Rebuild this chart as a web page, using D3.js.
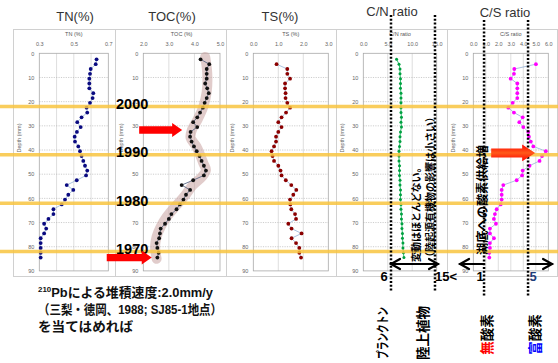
<!DOCTYPE html>
<html><head><meta charset="utf-8">
<script src="https://cdn.jsdelivr.net/npm/d3@7/dist/d3.min.js"></script>
<style>
body{margin:0;background:#fff;}
svg{display:block;}
</style></head><body>
<svg id="c" width="558" height="363"></svg>
<script>
// ---------------- DATA ----------------
const depthA = [2.5,4.5,6.5,8.5,10.5,12.5,14.5,16.5,18.5,20.5,22.5,24.5,26.5,28.5,30.5,32.5,34.5,36.5,38.5,40.5,42.5,44.5,46.5,48.5,50.5,52.5,54.5,56.5,58.5,60.5,62.5,64.5,66.5,68.5,70.5,72.5,74.5,76.5,78.5,80.5,82.5,84.5];
const depthB = [4.5,6.5,8.5,10.5,12.5,14.5,16.5,18.5,20.5,22.5,24.5,26.5,28.5,30.5,32.5,34.5,36.5,38.5,40.5,42.5,44.5,46.5,48.5,50.5,52.5,54.5,56.5,58.5,60.5,62.5,64.5,66.5,68.5,70.5,72.5,74.5,76.5,78.5,80.5,82.5,84.5];
const tnValues = [0.632,0.627,0.598,0.594,0.590,0.590,0.590,0.613,0.609,0.594,0.574,0.578,0.545,0.520,0.540,0.518,0.505,0.507,0.526,0.536,0.545,0.555,0.565,0.578,0.571,0.517,0.459,0.497,0.468,0.449,0.430,0.382,0.382,0.353,0.328,0.340,0.328,0.308,0.308,0.308,0.308,0.308];
const tocValues = [4.24,4.58,4.48,4.48,4.48,4.42,4.50,4.56,4.48,4.40,4.33,4.22,4.11,3.95,4.11,3.85,3.83,3.89,3.98,4.09,4.20,4.28,4.37,4.45,4.37,3.95,3.50,3.83,3.67,3.57,3.43,3.30,3.10,3.00,2.85,2.68,2.65,2.62,2.52,2.55,2.60,2.55];
const tocTrendDepth = [1.5,8,16,22,27.5,31.7,35,38.6,45.5,48.3,51,55,59,63.4,67.6,71.7,75.9,80,85];
const tocTrendValue = [4.42,4.50,4.48,4.35,4.12,3.90,3.85,4.08,4.35,4.45,4.30,3.90,3.62,3.25,2.92,2.68,2.52,2.46,2.52];
const tsValues = [0.93,1.36,1.36,1.47,1.27,1.27,1.29,1.29,1.36,1.47,1.31,1.13,1.00,1.13,1.00,0.91,0.91,0.83,0.73,0.77,0.83,1.00,1.09,1.13,1.30,1.52,1.72,1.60,1.47,1.48,1.52,1.67,1.71,1.40,1.53,1.93,1.53,1.71,1.84,1.84,1.91];
const cnValues = [6.8,7.3,7.5,7.5,7.6,7.6,7.6,7.7,7.7,7.7,7.7,7.7,7.8,7.7,7.8,7.6,7.5,7.5,7.4,7.3,7.3,7.3,7.4,7.4,7.4,7.5,7.5,7.6,7.6,7.6,7.7,7.7,7.8,7.8,7.9,7.9,8.0,8.0,8.1,8.1,8.2,8.3];
const csValues = [5.01,3.28,3.25,2.99,3.52,3.52,3.52,3.52,3.15,2.80,3.25,3.95,3.68,4.00,4.40,4.45,4.60,4.80,5.80,5.50,5.30,4.50,3.95,3.90,3.47,2.40,2.27,2.27,2.27,2.19,1.87,1.73,1.65,1.81,1.33,1.33,1.65,1.33,1.33,1.28,1.28];
const depthTicks = [0,10,20,30,40,50,60,70,80,90];
const tnTicks = [0.3,0.5,0.7];
const tocTicks = [2,3,4,5];
const tsTicks = [0,1,2,3];
const cnTicks = [0,5,10,15];
const csTicks = [0,1,2,3,4,5,6];
const years = ["2000","1990","1980","1970"];
const yearDepths = [22,42,62,82];
const cnGuides = [5.66,14.65];
const cnGuideLabels = ["6","15<"];
const csGuides = [0.86,4.38];
const csGuideLabels = ["1","5"];

// ---------------- CHART ----------------
const svg = d3.select('#c');
const FT = 29, FB = 276;
const y = d3.scaleLinear().domain([0,90]).range([53.3,270.9]);
const panels = [
  {title:'TN(%)', sub:'TN (%)', f:[13,115], px:[39.3,108.3], dom:[0.3,0.7], grid:[0.4,0.5,0.6], ticks:tnTicks, fmt:'.1f', depth:depthA, vals:tnValues, mk:'#0a0a80', ln:'#95b3d7', tx:75, ty:21},
  {title:'TOC(%)', sub:'TOC (%)', f:[115,226], px:[143.3,220], dom:[2,5], grid:[3,4], ticks:tocTicks, fmt:'.1f', depth:depthA, vals:tocValues, mk:'#111', ln:'#4a5a7a', tx:172, ty:21},
  {title:'TS(%)', sub:'TS (%)', f:[226,336], px:[253.3,328.3], dom:[0,3], grid:[1,2], ticks:tsTicks, fmt:'.1f', depth:depthB, vals:tsValues, mk:'#8b0000', ln:'#95b3d7', tx:280, ty:21},
  {title:'C/N ratio', sub:'C/N ratio', f:[336,447], px:[363.3,436.7], dom:[0,15], grid:[5,10], ticks:cnTicks, fmt:'.1f', depth:depthA, vals:cnValues, mk:'#00a040', ln:'#00b050', tx:392, ty:16},
  {title:'C/S ratio', sub:'C/S ratio', f:[447,557], px:[473.3,548.3], dom:[0,6], grid:[1,2,3,4,5], ticks:csTicks, fmt:'.1f', depth:depthB, vals:csValues, mk:'#ff00ff', ln:'#95b3d7', tx:505, ty:17},
];
const scales = [];
panels.forEach((p,pi) => {
  const x = d3.scaleLinear().domain(p.dom).range(p.px);
  scales.push(x);
  const g = svg.append('g');
  g.append('rect').attr('x',p.f[0]+0.5).attr('y',FT+0.5).attr('width',p.f[1]-p.f[0]).attr('height',FB-FT)
    .attr('fill','#fff').attr('stroke','#d0d0d0');
  g.selectAll('line.vg').data(p.grid).join('line').attr('class','vg')
    .attr('x1',d=>x(d)).attr('x2',d=>x(d)).attr('y1',y(0)).attr('y2',y(90))
    .attr('stroke','#d6d6d6').attr('stroke-width',0.8);
  g.selectAll('line.hg').data(depthTicks.slice(1,-1)).join('line').attr('class','hg')
    .attr('x1',p.px[0]).attr('x2',p.px[1]).attr('y1',d=>y(d)).attr('y2',d=>y(d))
    .attr('stroke','#b8b8b8').attr('stroke-width',0.7).attr('stroke-dasharray','1.2,1.2');
  g.append('rect').attr('x',p.px[0]).attr('y',y(0)).attr('width',p.px[1]-p.px[0]).attr('height',y(90)-y(0))
    .attr('fill','none').attr('stroke','#a8a8a8').attr('stroke-width',0.8);
  const ax = g.append('g').attr('transform',`translate(0,${y(0)})`)
    .call(d3.axisTop(x).tickValues(p.ticks).tickFormat(d3.format(p.fmt)).tickSize(0).tickPadding(7));
  const ay = g.append('g').attr('transform',`translate(${p.px[0]},0)`)
    .call(d3.axisLeft(y).tickValues(depthTicks).tickSize(0).tickPadding(5));
  [ax,ay].forEach(a=>{
    a.select('.domain').remove();
    a.selectAll('text').attr('font-size',5.5).attr('fill','#666').attr('font-family','Liberation Sans, Arial, sans-serif');
  });
  g.append('text').attr('x',(p.px[0]+p.px[1])/2).attr('y',36).attr('text-anchor','middle')
    .attr('font-size',5.5).attr('fill','#555').attr('font-family','Liberation Sans, Arial, sans-serif').text(p.sub);
  g.append('text').attr('transform',`translate(${p.f[0]+8},138) rotate(-90)`).attr('text-anchor','middle')
    .attr('font-size',5.5).attr('fill','#666').attr('font-family','Liberation Sans, Arial, sans-serif').text('Depth (mm)');
  svg.append('text').attr('x',p.tx).attr('y',p.ty).attr('text-anchor','middle')
    .attr('font-size',13).attr('fill','#333').attr('font-family','Liberation Sans, Arial, sans-serif').text(p.title);

  const pts = p.depth.map((d,i)=>[x(p.vals[i]), y(d)]);
  if (pi===1) {
    const trend = tocTrendDepth.map((d,i)=>[x(tocTrendValue[i]), y(d)]);
    g.append('path').attr('d', d3.line().curve(d3.curveCatmullRom)(trend))
      .attr('fill','none').attr('stroke','#c9a3a0').attr('stroke-opacity',0.55)
      .attr('stroke-width',10).attr('stroke-linecap','round');
  }
  g.append('path').attr('d', d3.line()(pts)).attr('fill','none').attr('stroke',p.ln).attr('stroke-width',0.8);
  g.selectAll('circle').data(pts).join('circle').attr('cx',d=>d[0]).attr('cy',d=>d[1])
    .attr('r', pi===3 ? 1.5 : 1.9).attr('fill',p.mk);
});

svg.selectAll('line.yr').data(yearDepths).join('line').attr('class','yr')
  .attr('x1',0).attr('x2',558).attr('y1',d=>y(d)).attr('y2',d=>y(d))
  .attr('stroke','#f8c440').attr('stroke-opacity',0.85).attr('stroke-width',3.5);

svg.selectAll('text.yr').data(years).join('text').attr('class','yr')
  .attr('x',116).attr('y',(d,i)=>y(yearDepths[i])+2.5)
  .attr('font-size',14.5).attr('font-weight','bold').attr('fill','#000')
  .attr('font-family','Liberation Sans, Arial, sans-serif').text(d=>d);

const xCN = scales[3], xCS = scales[4];
svg.selectAll('line.gcn').data(cnGuides).join('line').attr('class','gcn')
  .attr('x1',d=>xCN(d)).attr('x2',d=>xCN(d)).attr('y1',15).attr('y2',292)
  .attr('stroke','#000').attr('stroke-width',2.5).attr('stroke-dasharray','2,1.8');
svg.selectAll('line.gcs').data(csGuides).join('line').attr('class','gcs')
  .attr('x1',d=>xCS(d)).attr('x2',d=>xCS(d)).attr('y1',20).attr('y2',297)
  .attr('stroke','#000').attr('stroke-width',2.5).attr('stroke-dasharray','2,1.8');

function arrowLine(x1,x2,yy,headL,headR){
  const g = svg.append('g').attr('stroke','#000').attr('stroke-width',2.2).attr('fill','none').attr('stroke-linecap','round');
  g.append('line').attr('x1',x1).attr('x2',x2).attr('y1',yy).attr('y2',yy);
  if(headL) g.append('path').attr('d',`M${x1+9},${yy-5}L${x1},${yy}L${x1+9},${yy+5}`);
  if(headR) g.append('path').attr('d',`M${x2-9},${yy-5}L${x2},${yy}L${x2-9},${yy+5}`);
}
const ay = 264;
arrowLine(xCN(cnGuides[0]), xCN(cnGuides[1])+3, ay, true, true);
arrowLine(xCS(csGuides[0])-24, xCS(csGuides[0]), ay, true, false);
arrowLine(xCS(csGuides[1]), xCS(csGuides[1])+24, ay, false, true);

const lf = 'Liberation Sans, Arial, sans-serif';
svg.append('text').attr('x',xCN(cnGuides[0])-7).attr('y',281).attr('text-anchor','middle').attr('font-size',13).attr('font-weight','bold').attr('font-family',lf).text(cnGuideLabels[0]);
svg.append('text').attr('x',xCN(cnGuides[1])+11).attr('y',281).attr('text-anchor','middle').attr('font-size',13).attr('font-weight','bold').attr('font-family',lf).text(cnGuideLabels[1]);
svg.append('text').attr('x',xCS(csGuides[0])-4).attr('y',281).attr('text-anchor','middle').attr('font-size',13).attr('font-weight','bold').attr('font-family',lf).text(csGuideLabels[0]);
svg.append('text').attr('x',xCS(csGuides[1])+5).attr('y',281).attr('text-anchor','middle').attr('font-size',13).attr('font-weight','bold').attr('fill','#1f3d7a').attr('font-family',lf).text(csGuideLabels[1]);

const defs = svg.append('defs');
const gr = defs.append('linearGradient').attr('id','rg').attr('x1',0).attr('x2',0).attr('y1',0).attr('y2',1);
gr.append('stop').attr('offset','0%').attr('stop-color','#ff0000');
gr.append('stop').attr('offset','50%').attr('stop-color','#ff5a1a');
gr.append('stop').attr('offset','100%').attr('stop-color','#ff0000');
function blockArrow(xTip, yc, len, sh, hh, hl, fill){
  const x0 = xTip-len, xh = xTip-hl;
  svg.append('path').attr('d',`M${x0},${yc-sh}L${xh},${yc-sh}L${xh},${yc-hh}L${xTip},${yc}L${xh},${yc+hh}L${xh},${yc+sh}L${x0},${yc+sh}Z`)
    .attr('fill',fill);
}
const xTOC = scales[1];
blockArrow(xTOC(3.52), y(31.7), 43, 3.7, 7, 10, '#ff0000');
blockArrow(xTOC(2.33), y(84.5), 45, 3.7, 7, 10, '#ff0000');
blockArrow(xCS(4.95), y(41.2), 44, 4.5, 8.3, 13, 'url(#rg)');

const jf = 'Liberation Sans, "Noto Sans CJK JP", sans-serif';
function vtext(cx, cy, size, anchor, len){
  const t = svg.append('text').attr('transform',`translate(${cx},${cy}) rotate(-90)`)
    .attr('text-anchor',anchor).attr('dominant-baseline','central')
    .attr('font-size',size).attr('font-weight','bold').attr('font-family',jf);
  if(len) t.attr('textLength',len).attr('lengthAdjust','spacingAndGlyphs');
  return t;
}
vtext(416, 262, 10, 'start').text('変動はほとんどない。');
vtext(430, 262, 10, 'start').text('（陸起源有機物の影響は小さい）');
vtext(483, 255, 12, 'start', 110).text('湖底への酸素供給増');
vtext(382.5, 333, 13, 'middle', 52).text('プランクトン');
vtext(423.7, 333, 13.5, 'middle').text('陸上植物');
const t1 = vtext(486.5, 334.5, 13.5, 'middle');
t1.append('tspan').attr('fill','#ff0000').text('無');
t1.append('tspan').text('酸素');
const t2 = vtext(534.7, 334.5, 13.5, 'middle');
t2.append('tspan').attr('fill','#0000ff').text('富');
t2.append('tspan').text('酸素');

const note = svg.append('g').attr('font-family',jf).attr('font-weight','bold').attr('font-size',13).attr('fill','#111');
const l1 = note.append('text').attr('x',38).attr('y',297).attr('textLength',175).attr('lengthAdjust','spacingAndGlyphs');
l1.append('tspan').attr('font-size',8).attr('dy',-5).text('210');
l1.append('tspan').attr('dy',5).text('Pbによる堆積速度:2.0mm/y');
note.append('text').attr('x',38).attr('y',314).attr('textLength',184).attr('lengthAdjust','spacingAndGlyphs').text('（三梨・徳岡、1988;  SJ85-1地点）');
note.append('text').attr('x',38).attr('y',331).attr('textLength',95).attr('lengthAdjust','spacingAndGlyphs').text('を当てはめれば');
</script>
</body></html>
